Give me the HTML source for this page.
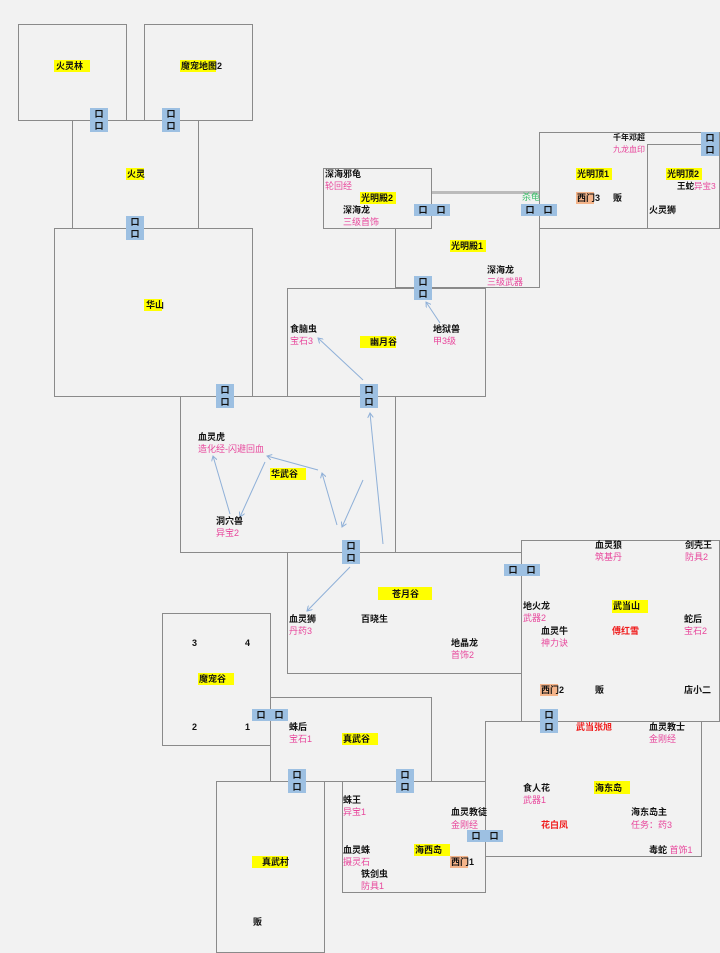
<!DOCTYPE html>
<html><head><meta charset="utf-8"><style>
body{margin:0;background:#f2f2f2;}
#c{position:relative;width:720px;height:953px;overflow:hidden;background:#f2f2f2;font-family:"Liberation Sans","Noto Sans CJK SC",sans-serif;}
.b{position:absolute;border:1px solid #8a8a8a;background:#f2f2f2;box-sizing:border-box;}
.t{position:absolute;font-size:9px;line-height:12px;font-weight:bold;color:#111;white-space:nowrap;}
.p{color:#e8479c;font-weight:normal;}
.r{color:#f01c1c;}
.g{color:#3cbf6a;font-weight:normal;}
.y{position:absolute;background:#ffff00;height:12px;}
.o{background:#f4b48a;}
.dv{position:absolute;width:18px;height:24px;background:#9dc0e2;font-size:9px;line-height:12px;text-align:center;font-weight:bold;color:#111;font-family:"Liberation Sans","Noto Sans CJK SC",sans-serif;}
.dh{position:absolute;width:36px;height:12px;background:#9dc0e2;font-size:9px;line-height:12px;font-weight:bold;color:#111;font-family:"Liberation Sans","Noto Sans CJK SC",sans-serif;}
.dh span{display:inline-block;width:18px;text-align:center;}
svg{position:absolute;left:0;top:0;}
</style></head><body><div id="c">
<div class="b" style="left:18px;top:24px;width:109px;height:97px"></div>
<div class="b" style="left:144px;top:24px;width:109px;height:97px"></div>
<div class="b" style="left:72px;top:120px;width:127px;height:109px"></div>
<div class="b" style="left:54px;top:228px;width:199px;height:169px"></div>
<div class="b" style="left:395px;top:191px;width:145px;height:97px;border-top:3px solid #bbb"></div>
<div class="b" style="left:323px;top:168px;width:109px;height:61px"></div>
<div class="b" style="left:539px;top:132px;width:181px;height:97px"></div>
<div class="b" style="left:647px;top:144px;width:73px;height:85px"></div>
<div class="b" style="left:287px;top:288px;width:199px;height:109px"></div>
<div class="b" style="left:180px;top:396px;width:216px;height:157px"></div>
<div class="b" style="left:287px;top:552px;width:235px;height:122px"></div>
<div class="b" style="left:521px;top:540px;width:199px;height:182px"></div>
<div class="b" style="left:162px;top:613px;width:109px;height:133px"></div>
<div class="b" style="left:270px;top:697px;width:162px;height:85px"></div>
<div class="b" style="left:485px;top:721px;width:217px;height:136px"></div>
<div class="b" style="left:342px;top:781px;width:144px;height:112px"></div>
<div class="b" style="left:216px;top:781px;width:109px;height:172px"></div>

<svg width="720" height="953"><defs><marker id="a" markerWidth="6" markerHeight="6" refX="5" refY="3" orient="auto"><path d="M0,0L5,3L0,6" fill="none" stroke="#8fb0d8" stroke-width="1"/></marker></defs>
<g stroke="#8fb0d8" stroke-width="1" fill="none" marker-end="url(#a)">
<line x1="230" y1="514" x2="213" y2="456"/>
<line x1="265" y1="462" x2="240" y2="517"/>
<line x1="318" y1="470" x2="267" y2="456"/>
<line x1="337" y1="525" x2="322" y2="473"/>
<line x1="363" y1="480" x2="342" y2="527"/>
<line x1="383" y1="544" x2="370" y2="413"/>
<line x1="350" y1="567" x2="307" y2="611"/>
<line x1="363" y1="380" x2="318" y2="338"/>
<line x1="440" y1="323" x2="426" y2="302"/>
</g></svg>

<div class="dv" style="left:90px;top:108px">口<br>口</div>
<div class="dv" style="left:162px;top:108px">口<br>口</div>
<div class="dv" style="left:126px;top:216px">口<br>口</div>
<div class="dv" style="left:216px;top:384px">口<br>口</div>
<div class="dv" style="left:360px;top:384px">口<br>口</div>
<div class="dv" style="left:414px;top:276px">口<br>口</div>
<div class="dv" style="left:342px;top:540px">口<br>口</div>
<div class="dv" style="left:540px;top:709px">口<br>口</div>
<div class="dv" style="left:288px;top:769px">口<br>口</div>
<div class="dv" style="left:396px;top:769px">口<br>口</div>
<div class="dv" style="left:701px;top:132px">口<br>口</div>
<div class="dh" style="left:414px;top:204px"><span>口</span><span>口</span></div>
<div class="dh" style="left:521px;top:204px"><span>口</span><span>口</span></div>
<div class="dh" style="left:504px;top:564px"><span>口</span><span>口</span></div>
<div class="dh" style="left:252px;top:709px"><span>口</span><span>口</span></div>
<div class="dh" style="left:467px;top:830px"><span>口</span><span>口</span></div>

<div class="y" style="left:54px;top:60px;width:36px"></div><div class="t" style="left:56px;top:60px">火灵林</div>
<div class="y" style="left:180px;top:60px;width:36px"></div><div class="t" style="left:181px;top:60px">魔宠地图2</div>
<div class="y" style="left:126px;top:168px;width:18px"></div><div class="t" style="left:127px;top:168px">火灵</div>
<div class="y" style="left:144px;top:299px;width:18px"></div><div class="t" style="left:146px;top:299px">华山</div>

<div class="t" style="left:325px;top:168px">深海邪龟</div><div class="t p" style="left:325px;top:180px">轮回经</div>
<div class="y" style="left:360px;top:192px;width:36px"></div><div class="t" style="left:361px;top:192px">光明殿2</div>
<div class="t" style="left:343px;top:204px">深海龙</div><div class="t p" style="left:343px;top:216px">三级首饰</div>
<div class="t g" style="left:522px;top:191px">杀龟</div>
<div class="y" style="left:450px;top:240px;width:36px"></div><div class="t" style="left:451px;top:240px">光明殿1</div>
<div class="t" style="left:487px;top:264px">深海龙</div><div class="t p" style="left:487px;top:276px">三级武器</div>

<div class="t" style="left:613px;top:132px;font-size:8px">千年邓超</div><div class="t p" style="left:613px;top:144px;font-size:8px">九龙血印</div>
<div class="y" style="left:576px;top:168px;width:36px"></div><div class="t" style="left:577px;top:168px">光明顶1</div>
<div class="y o" style="left:576px;top:192px;width:18px"></div><div class="t" style="left:577px;top:192px">西门3</div>
<div class="t" style="left:613px;top:192px">贩</div>
<div class="y" style="left:666px;top:168px;width:36px"></div><div class="t" style="left:667px;top:168px">光明顶2</div>
<div class="t" style="left:677px;top:180px;font-size:8.5px">王蛇<span class="p">异宝3</span></div>
<div class="t" style="left:649px;top:204px">火灵狮</div>

<div class="t" style="left:290px;top:323px">食脑虫</div><div class="t p" style="left:290px;top:335px">宝石3</div>
<div class="y" style="left:360px;top:336px;width:36px"></div><div class="t" style="left:370px;top:336px">幽月谷</div>
<div class="t" style="left:433px;top:323px">地狱兽</div><div class="t p" style="left:433px;top:335px">甲3级</div>

<div class="t" style="left:198px;top:431px">血灵虎</div><div class="t p" style="left:198px;top:443px">造化经-闪避回血</div>
<div class="y" style="left:270px;top:468px;width:36px"></div><div class="t" style="left:271px;top:468px">华武谷</div>
<div class="t" style="left:216px;top:515px">洞穴兽</div><div class="t p" style="left:216px;top:527px">异宝2</div>

<div class="y" style="left:378px;top:587px;width:54px;height:13px"></div><div class="t" style="left:392px;top:588px">苍月谷</div>
<div class="t" style="left:289px;top:613px">血灵狮</div><div class="t p" style="left:289px;top:625px">丹药3</div>
<div class="t" style="left:361px;top:613px">百晓生</div>
<div class="t" style="left:451px;top:637px">地晶龙</div><div class="t p" style="left:451px;top:649px">首饰2</div>

<div class="t" style="left:595px;top:539px">血灵狼</div><div class="t p" style="left:595px;top:551px">筑基丹</div>
<div class="t" style="left:685px;top:539px">剑壳王</div><div class="t p" style="left:685px;top:551px">防具2</div>
<div class="t" style="left:523px;top:600px">地火龙</div><div class="t p" style="left:523px;top:612px">武器2</div>
<div class="y" style="left:612px;top:600px;width:36px;height:13px"></div><div class="t" style="left:613px;top:600px">武当山</div>
<div class="t" style="left:684px;top:613px">蛇后</div><div class="t p" style="left:684px;top:625px">宝石2</div>
<div class="t" style="left:541px;top:625px">血灵牛</div><div class="t p" style="left:541px;top:637px">神力诀</div>
<div class="t r" style="left:612px;top:625px">傅红雪</div>
<div class="y o" style="left:540px;top:684px;width:18px"></div><div class="t" style="left:541px;top:684px">西门2</div>
<div class="t" style="left:595px;top:684px">贩</div>
<div class="t" style="left:684px;top:684px">店小二</div>

<div class="t" style="left:192px;top:637px">3</div><div class="t" style="left:245px;top:637px">4</div>
<div class="y" style="left:198px;top:673px;width:36px"></div><div class="t" style="left:199px;top:673px">魔宠谷</div>
<div class="t" style="left:192px;top:721px">2</div><div class="t" style="left:245px;top:721px">1</div>

<div class="t" style="left:289px;top:721px">蛛后</div><div class="t p" style="left:289px;top:733px">宝石1</div>
<div class="y" style="left:342px;top:733px;width:36px"></div><div class="t" style="left:343px;top:733px">真武谷</div>

<div class="y" style="left:252px;top:856px;width:36px"></div><div class="t" style="left:262px;top:856px">真武村</div>
<div class="t" style="left:253px;top:916px">贩</div>

<div class="t" style="left:343px;top:794px">蛛王</div><div class="t p" style="left:343px;top:806px">异宝1</div>
<div class="t" style="left:451px;top:806px">血灵教徒</div><div class="t p" style="left:451px;top:819px">金刚经</div>
<div class="t" style="left:343px;top:844px">血灵蛛</div><div class="t p" style="left:343px;top:856px">摄灵石</div>
<div class="y" style="left:414px;top:844px;width:36px"></div><div class="t" style="left:415px;top:844px">海西岛</div>
<div class="y o" style="left:450px;top:856px;width:18px"></div><div class="t" style="left:451px;top:856px">西门1</div>
<div class="t" style="left:361px;top:868px">铁剑虫</div><div class="t p" style="left:361px;top:880px">防具1</div>

<div class="t r" style="left:576px;top:721px">武当张旭</div>
<div class="t" style="left:649px;top:721px">血灵教士</div><div class="t p" style="left:649px;top:733px">金刚经</div>
<div class="t" style="left:523px;top:782px">食人花</div><div class="t p" style="left:523px;top:794px">武器1</div>
<div class="y" style="left:594px;top:781px;width:36px;height:13px"></div><div class="t" style="left:595px;top:782px">海东岛</div>
<div class="t" style="left:631px;top:806px">海东岛主</div><div class="t p" style="left:631px;top:819px">任务：药3</div>
<div class="t r" style="left:541px;top:819px">花白凤</div>
<div class="t" style="left:649px;top:844px">毒蛇 <span class="p">首饰1</span></div>
</div></body></html>
